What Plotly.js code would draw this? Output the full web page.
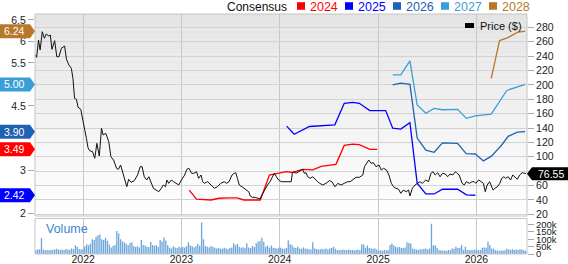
<!DOCTYPE html>
<html>
<head>
<meta charset="utf-8">
<script src="https://cdn.plot.ly/plotly-3.0.1.min.js"></script>
<style>html,body{margin:0;padding:0;background:#fff;}#chart{width:568px;height:264px;}</style>
</head>
<body>
<div id="chart"></div>
<script>
// ---------------- DATA ----------------
const priceDates = ["2021-07-08","2021-07-12","2021-07-19","2021-07-25","2021-08-02","2021-08-10","2021-08-17","2021-08-26","2021-09-01","2021-09-07","2021-09-17","2021-09-25","2021-10-03","2021-10-12","2021-10-24","2021-10-31","2021-11-09","2021-11-18","2021-11-24","2021-11-30","2021-12-07","2021-12-13","2021-12-23",
"2022-01-01","2022-01-07","2022-01-13","2022-01-19","2022-01-25","2022-02-05","2022-02-13","2022-02-21","2022-03-02","2022-03-10","2022-03-16","2022-03-26","2022-04-06","2022-04-14","2022-04-24","2022-05-05","2022-05-12","2022-05-20","2022-05-29","2022-06-12","2022-06-19","2022-06-28","2022-07-10","2022-07-22","2022-08-01","2022-08-08","2022-08-16","2022-08-25","2022-09-02","2022-09-11","2022-09-19","2022-09-29","2022-10-09","2022-10-18","2022-10-26","2022-11-03","2022-11-08","2022-11-15","2022-11-24","2022-12-03","2022-12-13","2022-12-22",
"2023-01-01","2023-01-13","2023-01-21","2023-01-29","2023-02-08","2023-02-16","2023-02-26","2023-03-06","2023-03-15","2023-03-21","2023-03-27","2023-04-08","2023-04-21","2023-05-03","2023-05-15","2023-05-27","2023-06-09","2023-06-17","2023-06-27","2023-07-08","2023-07-16","2023-07-22","2023-07-28","2023-08-04","2023-08-14","2023-08-22","2023-08-31","2023-09-08","2023-09-14","2023-09-22","2023-10-02","2023-10-11","2023-10-20","2023-10-27","2023-11-05","2023-11-17","2023-11-26","2023-12-06","2023-12-12","2023-12-20","2023-12-28",
"2024-01-07","2024-01-15","2024-01-27","2024-02-07","2024-02-13","2024-02-17","2024-02-22","2024-03-02","2024-03-11","2024-03-20","2024-03-26","2024-04-02","2024-04-08","2024-04-14","2024-04-23","2024-05-03","2024-05-11","2024-05-21","2024-05-29","2024-06-09","2024-06-21","2024-07-04","2024-07-13","2024-07-25","2024-08-04","2024-08-16","2024-08-28","2024-09-10","2024-09-19","2024-09-28","2024-10-11","2024-10-23","2024-11-05","2024-11-11","2024-11-19","2024-11-27","2024-12-06","2024-12-14","2024-12-24",
"2025-01-04","2025-01-13","2025-01-21","2025-02-01","2025-02-10","2025-02-19","2025-02-27","2025-03-08","2025-03-18","2025-03-26","2025-04-05","2025-04-15","2025-04-24","2025-04-29","2025-05-08","2025-05-18","2025-05-26","2025-06-05","2025-06-14","2025-06-27","2025-07-07","2025-07-16","2025-07-24","2025-08-01","2025-08-10","2025-08-19","2025-08-28","2025-09-08","2025-09-16","2025-09-25","2025-10-05","2025-10-15","2025-10-21","2025-10-29","2025-11-09","2025-11-17","2025-11-25","2025-12-06","2025-12-16","2025-12-24","2025-12-30",
"2026-01-09","2026-01-19","2026-01-27","2026-02-03","2026-02-10","2026-02-19","2026-02-26","2026-03-04","2026-03-11","2026-03-20","2026-03-29","2026-04-05","2026-04-13","2026-04-20","2026-04-29","2026-05-08","2026-05-16","2026-05-23","2026-06-02","2026-06-11","2026-06-20","2026-06-30","2026-07-04"];
const price = [241.5,238.3,262.3,248.4,273.9,264.7,270.7,267.9,269.3,249.4,261.4,239.1,239.1,250.8,254.0,235.5,227.6,223.0,209.1,181.3,179.9,168.8,166.0,
151.1,137.2,125.7,112.6,108.5,107.1,97.9,118.7,101.1,139.6,130.3,132.7,121.0,100.1,95.5,84.0,82.6,88.6,77.0,58.4,68.7,64.5,66.8,74.7,86.2,86.2,72.3,67.7,72.3,63.1,56.2,53.8,51.5,56.2,60.8,58.4,67.7,63.1,67.7,65.4,63.1,60.8,
67.7,74.7,82.6,84.0,77.0,77.0,79.3,70.1,74.7,65.4,63.1,65.4,60.8,56.2,58.4,63.1,65.4,63.1,65.4,74.7,77.0,77.9,70.1,60.8,58.4,56.2,53.8,51.5,45.5,43.7,43.7,42.3,41.3,46.9,53.8,60.8,65.4,72.3,77.0,72.3,67.7,
65.4,65.4,66.4,65.4,65.4,77.0,79.3,77.0,79.3,81.6,82.6,77.0,77.9,72.3,70.1,72.3,68.7,65.4,63.1,60.8,63.1,66.8,65.4,58.4,63.1,60.8,63.1,65.4,65.4,67.7,71.5,71.5,74.7,86.2,90.9,95.5,90.9,91.8,86.2,
88.6,81.6,84.0,81.6,74.7,63.1,58.4,56.2,54.8,49.2,53.8,51.5,53.8,45.5,56.2,60.8,63.1,65.4,63.1,67.7,65.4,77.0,79.3,74.7,77.9,72.3,77.0,76.1,72.3,76.1,74.7,79.3,77.0,74.7,63.1,60.8,65.4,63.1,65.4,65.4,63.1,
67.7,65.4,63.1,51.5,60.8,65.4,58.4,53.8,56.2,58.4,63.1,70.1,72.3,70.1,72.3,67.7,74.7,72.3,68.7,74.7,77.9,77.0,76.55];

const e2024Dates = ["2023-01-30","2023-02-26","2023-04-21","2023-05-21","2023-06-25","2023-07-27","2023-08-21","2023-10-21","2023-11-24","2023-12-25","2024-01-25","2024-02-19","2024-03-26","2024-05-03","2024-06-03","2024-07-28","2024-08-28","2024-09-28","2024-10-23","2024-12-01","2024-12-29"];
const e2024 = [2.54,2.33,2.31,2.35,2.36,2.36,2.31,2.31,2.89,2.93,2.97,2.95,3.02,3.01,3.09,3.14,3.58,3.61,3.60,3.49,3.49];
const e2025Dates = ["2024-01-27","2024-02-24","2024-04-21","2024-07-24","2024-08-28","2024-09-28","2024-10-23","2024-12-01","2025-01-29","2025-02-24","2025-03-26","2025-04-29","2025-05-26","2025-06-27","2025-07-28","2025-08-28","2025-10-23","2025-11-25","2025-12-28"];
const e2025 = [4.03,3.84,4.02,4.06,4.56,4.58,4.56,4.39,4.39,3.98,3.96,4.11,2.70,2.45,2.45,2.56,2.56,2.43,2.42];
const e2026Dates = ["2025-02-24","2025-03-26","2025-04-29","2025-05-26","2025-06-27","2025-07-28","2025-08-28","2025-10-23","2025-11-24","2025-12-28","2026-01-27","2026-02-26","2026-04-05","2026-04-29","2026-06-02","2026-07-01"];
const e2026 = [4.99,5.03,5.00,3.75,3.47,3.42,3.64,3.63,3.39,3.38,3.22,3.33,3.59,3.79,3.89,3.90];
const e2027Dates = ["2025-02-24","2025-03-26","2025-04-29","2025-05-26","2025-06-27","2025-07-28","2025-08-28","2025-10-23","2025-11-25","2025-12-28","2026-02-25","2026-04-24","2026-07-01"];
const e2027 = [5.22,5.22,5.55,4.52,4.33,4.44,4.41,4.42,4.21,4.27,4.31,4.86,5.00];
const e2028Dates = ["2026-02-25","2026-03-28","2026-04-28","2026-06-02","2026-07-01"];
const e2028 = [5.14,6.02,6.09,6.21,6.24];

const consensusYears = ["2024","2025","2026","2027","2028"];

const volDates = ["2021-07-02","2021-07-09","2021-07-16","2021-07-23","2021-07-30","2021-08-06","2021-08-13","2021-08-20","2021-08-27","2021-09-03","2021-09-10","2021-09-17","2021-09-24","2021-10-01","2021-10-08","2021-10-15","2021-10-22","2021-10-29","2021-11-05","2021-11-12","2021-11-19","2021-11-26","2021-12-03","2021-12-10","2021-12-17","2021-12-24","2021-12-31",
"2022-01-07","2022-01-14","2022-01-21","2022-01-28","2022-02-04","2022-02-11","2022-02-18","2022-02-25","2022-03-04","2022-03-11","2022-03-18","2022-03-25","2022-04-01","2022-04-08","2022-04-15","2022-04-22","2022-04-29","2022-05-06","2022-05-13","2022-05-20","2022-05-27","2022-06-03","2022-06-10","2022-06-17","2022-06-24","2022-07-01","2022-07-08","2022-07-15","2022-07-22","2022-07-29","2022-08-05","2022-08-12","2022-08-19","2022-08-26","2022-09-02","2022-09-09","2022-09-16","2022-09-23","2022-09-30","2022-10-07","2022-10-14","2022-10-21","2022-10-28","2022-11-04","2022-11-11","2022-11-18","2022-11-25","2022-12-02","2022-12-09","2022-12-16","2022-12-23","2022-12-30",
"2023-01-06","2023-01-13","2023-01-20","2023-01-27","2023-02-03","2023-02-10","2023-02-17","2023-02-24","2023-03-03","2023-03-10","2023-03-17","2023-03-24","2023-03-31","2023-04-07","2023-04-14","2023-04-21","2023-04-28","2023-05-05","2023-05-12","2023-05-19","2023-05-26","2023-06-02","2023-06-09","2023-06-16","2023-06-23","2023-06-30","2023-07-07","2023-07-14","2023-07-21","2023-07-28","2023-08-04","2023-08-11","2023-08-18","2023-08-25","2023-09-01","2023-09-08","2023-09-15","2023-09-22","2023-09-29","2023-10-06","2023-10-13","2023-10-20","2023-10-27","2023-11-03","2023-11-10","2023-11-17","2023-11-24","2023-12-01","2023-12-08","2023-12-15","2023-12-22","2023-12-29",
"2024-01-05","2024-01-12","2024-01-19","2024-01-26","2024-02-02","2024-02-09","2024-02-16","2024-02-23","2024-03-01","2024-03-08","2024-03-15","2024-03-22","2024-03-29","2024-04-05","2024-04-12","2024-04-19","2024-04-26","2024-05-03","2024-05-10","2024-05-17","2024-05-24","2024-05-31","2024-06-07","2024-06-14","2024-06-21","2024-06-28","2024-07-05","2024-07-12","2024-07-19","2024-07-26","2024-08-02","2024-08-09","2024-08-16","2024-08-23","2024-08-30","2024-09-06","2024-09-13","2024-09-20","2024-09-27","2024-10-04","2024-10-11","2024-10-18","2024-10-25","2024-11-01","2024-11-08","2024-11-15","2024-11-22","2024-11-29","2024-12-06","2024-12-13","2024-12-20","2024-12-27",
"2025-01-03","2025-01-10","2025-01-17","2025-01-24","2025-01-31","2025-02-07","2025-02-14","2025-02-21","2025-02-28","2025-03-07","2025-03-14","2025-03-21","2025-03-28","2025-04-04","2025-04-11","2025-04-18","2025-04-25","2025-05-02","2025-05-09","2025-05-16","2025-05-23","2025-05-30","2025-06-06","2025-06-13","2025-06-20","2025-06-27","2025-07-04","2025-07-11","2025-07-18","2025-07-25","2025-08-01","2025-08-08","2025-08-15","2025-08-22","2025-08-29","2025-09-05","2025-09-12","2025-09-19","2025-09-26","2025-10-03","2025-10-10","2025-10-17","2025-10-24","2025-10-31","2025-11-07","2025-11-14","2025-11-21","2025-11-28","2025-12-05","2025-12-12","2025-12-19","2025-12-26",
"2026-01-02","2026-01-09","2026-01-16","2026-01-23","2026-01-30","2026-02-06","2026-02-13","2026-02-20","2026-02-27","2026-03-06","2026-03-13","2026-03-20","2026-03-27","2026-04-03","2026-04-10","2026-04-17","2026-04-24","2026-05-01","2026-05-08","2026-05-15","2026-05-22","2026-05-29","2026-06-05","2026-06-12","2026-06-19","2026-06-26","2026-07-03"];
const volume = [30,28,33,30,108,30,25,27,26,28,27,30,35,31,28,30,27,34,30,29,38,32,60,50,34,30,32,
52,66,60,70,100,95,118,128,132,100,96,110,90,65,45,55,62,157,140,100,86,78,70,60,75,80,55,48,52,45,95,62,58,50,48,82,62,56,60,50,95,85,113,92,60,45,38,52,45,40,50,45,
48,45,52,80,60,52,45,55,70,56,215,100,55,50,45,55,48,42,38,40,35,36,42,38,34,40,45,73,60,70,50,43,46,40,73,45,40,55,48,73,85,88,110,84,50,57,43,57,43,40,38,42,
43,36,35,40,93,66,60,45,40,50,38,35,45,38,36,33,30,80,38,34,30,32,35,33,38,30,38,40,50,35,27,28,27,30,27,26,30,27,28,26,27,30,26,66,65,43,57,40,38,35,38,30,
22,25,22,27,24,28,62,72,60,50,45,48,42,40,45,80,75,72,38,34,30,28,32,30,35,38,30,38,205,57,60,43,27,25,22,24,20,27,25,38,35,50,40,43,61,27,50,27,28,27,25,30,
27,25,28,43,45,43,84,61,38,36,25,23,22,24,23,25,36,30,27,34,27,30,28,33,30,25,22];

// left ticks the badges leave visible; right ticks (the 80 label sits under the price badge)
const epsTickVals = [2,3,4.5,5.5,6,6.5];
const priceTickVals = [20,40,60,80,100,120,140,160,180,200,220,240,260,280];
const priceTickText = ["20","40","60","","100","120","140","160","180","200","220","240","260","280"];
const volTickVals = [0,50,100,150,200];
const volTickText = ["0","50k","100k","150k","200k"];

// ---------------- LAYOUT HELPERS ----------------
const W=568,H=264,L=35,R=527,T=14,B=254;
const px = v => (v-L)/(R-L);
const py = v => (B-v)/(B-T);
const mainBottom = py(216), volTop = py(218.5);

const colors = {"2024":"#ff0000","2025":"#0000ff","2026":"#1f62b3","2027":"#3a9fd6","2028":"#b8782a"};
const series = [
  {yr:"2024", x:e2024Dates, y:e2024},
  {yr:"2025", x:e2025Dates, y:e2025},
  {yr:"2026", x:e2026Dates, y:e2026},
  {yr:"2027", x:e2027Dates, y:e2027},
  {yr:"2028", x:e2028Dates, y:e2028}
];

const traces = [];
series.forEach(s => traces.push({type:'scatter', mode:'lines', x:s.x, y:s.y, yaxis:'y', xaxis:'x',
  line:{color:colors[s.yr], width:1.3}, hoverinfo:'skip'}));
traces.push({type:'scatter', mode:'lines', x:priceDates, y:price, yaxis:'y2', xaxis:'x',
  line:{color:'#111', width:1}, hoverinfo:'skip'});
traces.push({type:'bar', x:volDates, y:volume, yaxis:'y3', xaxis:'x',
  marker:{color:'#6ea6dc', line:{width:0}}, hoverinfo:'skip'});

const shapes = [];
// gradient background of main panel
const n = 40;
for (let i=0;i<n;i++){
  const t=(i+0.5)/n;
  const c=Math.round(255 - t*(255-228));
  shapes.push({type:'rect', xref:'x domain', yref:'y domain', x0:0, x1:1, y0:i/n, y1:(i+1)/n,
    fillcolor:`rgb(${c},${c},${c})`, line:{width:0}, layer:'below'});
}
// panel borders
shapes.push({type:'rect', xref:'x domain', yref:'y domain', x0:0, x1:1, y0:0, y1:1, line:{color:'#c4c4c4', width:1}, layer:'above'});
shapes.push({type:'rect', xref:'x domain', yref:'y3 domain', x0:0, x1:1, y0:0, y1:1, line:{color:'#c4c4c4', width:1}, layer:'above'});

const annotations = [];
// top legend
annotations.push({xref:'paper', yref:'paper', x:px(224.5), y:py(6.5), xanchor:'left', yanchor:'middle', showarrow:false,
  text:'Consensus', font:{size:12, color:'#111'}});
const legX = [297,345,393,441,489];
consensusYears.forEach((yr,i)=>{
  shapes.push({type:'rect', xref:'paper', yref:'paper', x0:px(legX[i]), x1:px(legX[i]+8), y0:py(9.8), y1:py(2.2),
    fillcolor:colors[yr], line:{width:0}});
  annotations.push({xref:'paper', yref:'paper', x:px(legX[i]+10.5), y:py(6.5), xanchor:'left', yanchor:'middle', showarrow:false,
    text:yr, font:{size:12.5, color:colors[yr]}});
});
// price legend
shapes.push({type:'rect', xref:'paper', yref:'paper', x0:px(465), x1:px(474), y0:py(28), y1:py(23), fillcolor:'#000', line:{width:0}});
annotations.push({xref:'paper', yref:'paper', x:px(478), y:py(25.5), xanchor:'left', yanchor:'middle', showarrow:false,
  text:'Price ($)', font:{size:11, color:'#111'}});
// volume label
annotations.push({xref:'paper', yref:'paper', x:px(44), y:py(229), xanchor:'left', yanchor:'middle', showarrow:false,
  text:'Volume', font:{size:12.5, color:'#3b88cc'}});

// left badges (last consensus value)
series.forEach(s=>{
  const v = s.y[s.y.length-1];
  shapes.push({type:'path', xref:'paper', yref:'y', xsizemode:'pixel', ysizemode:'pixel', xanchor:0, yanchor:v,
    path:'M-35,7 L-5,7 L0,0 L-5,-7 L-35,-7 Z', fillcolor:colors[s.yr], line:{width:0}, layer:'above'});
  annotations.push({xref:'paper', yref:'y', x:0, y:v, xanchor:'center', yanchor:'middle', xshift:-21, showarrow:false,
    text:v.toFixed(2), font:{size:10.5, color:'#fff'}});
});
// right price badge
const lastPrice = price[price.length-1];
shapes.push({type:'path', xref:'paper', yref:'y2', xsizemode:'pixel', ysizemode:'pixel', xanchor:1, yanchor:lastPrice,
  path:'M0,0 L5,6.5 L41,6.5 L41,-6.5 L5,-6.5 Z', fillcolor:'#000', line:{width:0}, layer:'above'});
annotations.push({xref:'paper', yref:'y2', x:1, y:lastPrice, xanchor:'center', yanchor:'middle', xshift:23.5, showarrow:false,
  text:lastPrice.toFixed(2), font:{size:10.5, color:'#fff'}});

const tickFont = {size:10.5, color:'#222'};
const layout = {
  width:W, height:H, autosize:false,
  margin:{l:L, r:W-R, t:T, b:H-B, pad:0},
  paper_bgcolor:'#fff', plot_bgcolor:'rgba(0,0,0,0)',
  font:{family:'"Liberation Sans", Arial, sans-serif', size:11, color:'#222'},
  showlegend:false, bargap:0.3,
  xaxis:{type:'date', range:['2021-07-06','2026-07-08'], anchor:'y3', showgrid:true, gridcolor:'#c8c8c8', gridwidth:1,
    tick0:'2022-01-01', dtick:'M12', tickformat:'%Y', ticks:'', tickfont:tickFont, zeroline:false, showline:false,
    ticklabelstandoff:-3},
  yaxis:{domain:[mainBottom,1], range:[1.937,6.639], tickmode:'array', tickvals:epsTickVals, side:'left', anchor:'x', showgrid:false, zeroline:false,
    ticks:'outside', ticklen:6, tickcolor:'#aaa', tickfont:tickFont, showline:false},
  yaxis2:{overlaying:'y', side:'right', anchor:'x', range:[17.7,298.5], tickmode:'array', tickvals:priceTickVals, ticktext:priceTickText,
    showgrid:true, gridcolor:'#d3d3d3', zeroline:false, ticks:'outside', ticklen:6, tickcolor:'#aaa', tickfont:tickFont, showline:false},
  yaxis3:{domain:[0,volTop], side:'right', anchor:'x', range:[0,241.5], tickvals:volTickVals, ticktext:volTickText,
    showgrid:false, zeroline:false, ticks:'outside', ticklen:6, tickcolor:'#aaa', tickfont:{size:9.5, color:'#222'}, showline:false},
  shapes:shapes, annotations:annotations
};

Plotly.newPlot('chart', traces, layout, {staticPlot:true, displayModeBar:false});
</script>
</body>
</html>
